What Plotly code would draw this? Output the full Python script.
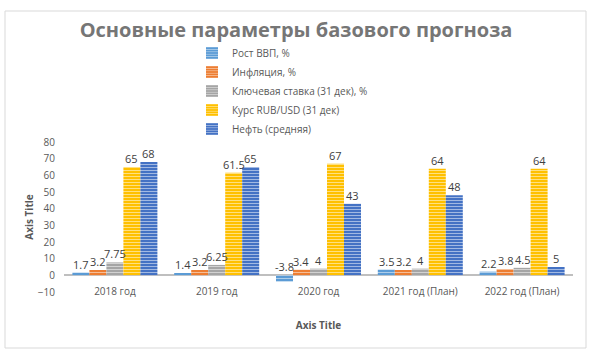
import plotly.graph_objects as go

categories = ["2018 год", "2019 год", "2020 год", "2021 год (План)", "2022 год (План)"]
series_names = ["Рост ВВП, %", "Инфляция, %", "Ключевая ставка (31 дек), %",
                "Курс RUB/USD (31 дек)", "Нефть (средняя)"]
gdp = [1.7, 1.4, -3.8, 3.5, 2.2]
inflation = [3.2, 3.2, 3.4, 3.2, 3.8]
key_rate = [7.75, 6.25, 4, 4, 4.5]
rub_usd = [65, 61.5, 67, 64, 64]
oil = [68, 65, 43, 48, 5]
y_ticks = [-10, 0, 10, 20, 30, 40, 50, 60, 70, 80]

series_values = [gdp, inflation, key_rate, rub_usd, oil]
colors = ["#5B9BD5", "#ED7D31", "#A5A5A5", "#FFC000", "#4472C4"]

FONT = "Open Sans"
W, H = 592, 354
ML, MR, MT, MB = 64, 19, 142, 62
BARGAP = 0.165

fig = go.Figure()
for name, vals, col in zip(series_names, series_values, colors):
    fig.add_trace(go.Bar(
        x=categories, y=vals, name=name,
        marker=dict(color=col, line=dict(width=0),
                    pattern=dict(shape="-", fgcolor="white", bgcolor=col,
                                 size=3, solidity=0.35)),
        hoverinfo="skip",
    ))

# data labels
plot_w = W - ML - MR
bar_px = plot_w / len(categories) * (1 - BARGAP) / len(series_names)
for i, vals in enumerate(series_values):
    for c, v in zip(categories, vals):
        fig.add_annotation(
            x=c, y=max(v, 0), text=f"{v:g}", showarrow=False,
            xref="x", yref="y", yanchor="bottom",
            xshift=(i - (len(series_names) - 1) / 2) * bar_px, yshift=-1,
            font=dict(family=FONT, size=11, color="#404040"),
        )

plot_h = H - MT - MB
def py(pix):
    return (H - MB - pix) / plot_h
def px(pix):
    return (pix - ML) / plot_w

fig.add_shape(type="rect", xref="paper", yref="paper",
              x0=px(5), x1=px(586), y0=py(348), y1=py(11),
              line=dict(color="#D9D9D9", width=1), fillcolor="rgba(0,0,0,0)",
              layer="below")

fig.update_layout(
    width=W, height=H,
    margin=dict(l=ML, r=MR, t=MT, b=MB),
    paper_bgcolor="white", plot_bgcolor="white",
    barmode="group", bargap=BARGAP, bargroupgap=0,
    title=dict(text="<b>Основные параметры базового прогноза</b>",
               x=0.5, xanchor="center", y=1 - 30 / H, yanchor="middle",
               xref="container", yref="container",
               font=dict(family=FONT, size=20, color="#767676")),
    legend=dict(x=px(192), xanchor="left", y=py(91), yanchor="middle",
                orientation="v", itemwidth=30,
                font=dict(family=FONT, size=10, color="#595959"),
                bgcolor="rgba(0,0,0,0)"),
    showlegend=True,
    font=dict(family=FONT, color="#595959"),
)
fig.update_xaxes(
    showgrid=False, showline=False, ticks="", ticklabelstandoff=-8,
    tickfont=dict(family=FONT, size=10, color="#595959"),
    automargin=True,
    title=dict(text="<b>Axis Title</b>", font=dict(family=FONT, size=10, color="#595959"),
               standoff=24),
)
fig.update_yaxes(
    range=[-10, 80], tickvals=y_ticks, showgrid=False, showline=False, ticks="",
    zeroline=True, zerolinecolor="#BFBFBF", zerolinewidth=1.5,
    ticklabelstandoff=8, automargin=True,
    tickfont=dict(family=FONT, size=10, color="#595959"),
    title=dict(text="<b>Axis Title</b>", font=dict(family=FONT, size=10, color="#595959"),
               standoff=2),
)

fig.write_html("out.html")
